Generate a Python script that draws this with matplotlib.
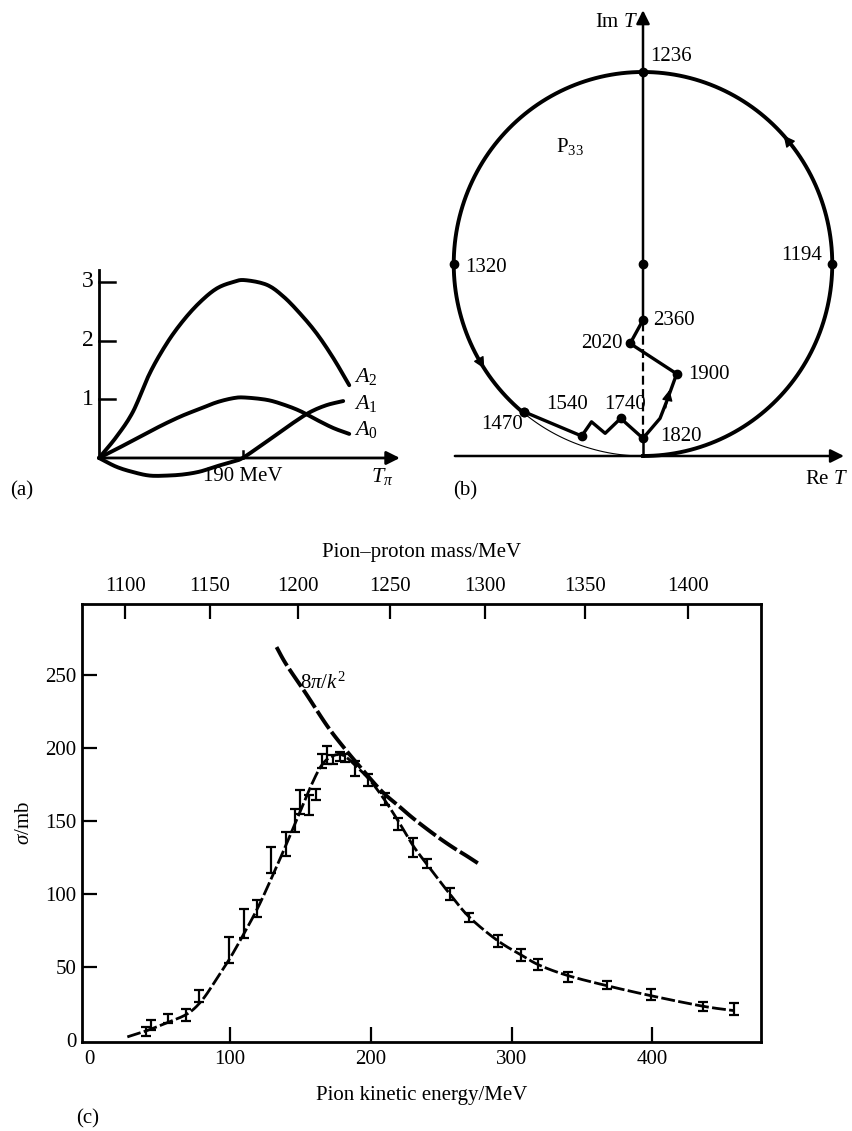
import matplotlib
matplotlib.use("Agg")
import matplotlib.pyplot as plt
import numpy as np

plt.rcParams['font.family'] = ['Liberation Serif', 'DejaVu Serif']
plt.rcParams['mathtext.fontset'] = 'custom'
plt.rcParams['mathtext.rm'] = 'Liberation Serif'
plt.rcParams['mathtext.it'] = 'Liberation Serif:italic'
plt.rcParams['mathtext.bf'] = 'Liberation Serif:bold'

# ---- panel (a): amplitudes vs pion kinetic energy (MeV)
a2_T = [0, 23, 45, 67, 90, 112, 134, 156, 178, 193, 222, 244, 266, 288, 310, 331]
a2_val = [0, 0.36, 0.79, 1.44, 1.96, 2.35, 2.66, 2.89, 3.00, 3.03, 2.95, 2.75, 2.46, 2.12, 1.70, 1.24]
a0_T = [0, 23, 45, 67, 90, 112, 134, 156, 178, 193, 222, 244, 266, 288, 310, 331]
a0_val = [0, 0.15, 0.30, 0.45, 0.60, 0.73, 0.84, 0.95, 1.02, 1.03, 0.99, 0.91, 0.80, 0.65, 0.51, 0.41]
a1_T = [0, 23, 45, 67, 90, 112, 134, 156, 178, 190, 213, 235, 257, 279, 301, 323]
a1_val = [0, -0.15, -0.24, -0.30, -0.30, -0.28, -0.23, -0.14, -0.06, 0, 0.20, 0.40, 0.60, 0.78, 0.90, 0.97]

# ---- panel (b): Argand diagram of P33 (labelled energies in MeV)
circle_E = [1194, 1236, 1320, 1470]
circle_re = [0.5, 0.0, -0.5, -0.314]
circle_im = [0.5, 1.0, 0.5, 0.115]
path_E = [1470, 1540, None, None, 1740, 1820, None, None, 1900, 2020, 2360]
path_re = [-0.314, -0.162, -0.136, -0.100, -0.059, 0.0, 0.045, 0.064, 0.089, -0.034, 0.0]
path_im = [0.115, 0.052, 0.089, 0.059, 0.098, 0.046, 0.098, 0.146, 0.214, 0.293, 0.354]

# ---- panel (c): pi+ p total cross section
T_data = [40, 44, 56, 69, 78, 99, 110, 119, 129, 140, 146, 150, 156, 161, 165, 169, 173,
          178, 182, 189, 198, 210, 219, 230, 240, 256, 270, 290, 307, 319, 340, 368, 399, 436, 458]
sigma_data = [5.6, 10, 14.5, 17, 30, 61.5, 79.5, 90, 123, 134, 150, 163, 161, 168, 191, 195, 192,
              194, 193, 186, 178, 165, 148, 132, 121, 100, 84, 67.5, 58, 51.5, 43, 37.5, 31, 23, 21]
sigma_err = [3, 3.5, 3, 4, 4, 9, 10, 6, 9, 8, 8, 8, 7, 4, 5, 6, 3,
             3, 3, 5, 4, 4, 4, 6.5, 3, 4, 3, 4, 4, 4, 3.5, 3, 3.5, 3, 4]
fit_T = [27, 40, 56, 70, 80, 90, 100, 110, 120, 130, 140, 150, 158, 165, 172, 180,
         190, 200, 210, 220, 230, 240, 256, 270, 290, 307, 320, 340, 368, 400, 436, 458]
fit_sigma = [2, 6, 12, 18, 27, 41, 56, 73, 91, 112, 134, 157, 175, 188, 194, 195,
             187, 177, 164, 149, 133, 120, 100, 84, 68, 58, 51, 44, 37, 30, 23, 20]
unit_T = [133, 140, 154, 169, 181, 195, 208, 220, 231, 246, 258, 268, 276]
unit_sigma = [269, 257, 237, 215, 200, 184, 170, 160, 151, 140, 132, 126, 121]
mass_ticks = [1100, 1150, 1200, 1250, 1300, 1350, 1400]

W, H = 853, 1131
fig = plt.figure(figsize=(W / 100, H / 100), dpi=100)


def box(x0, y0, x1, y1):
    return [x0 / W, 1 - y1 / H, (x1 - x0) / W, (y1 - y0) / H]


def smooth(x, y, n=10):
    # Catmull-Rom pass through the read points, only to draw a rounded line
    p = np.column_stack([x, y]).astype(float)
    p = np.vstack([2 * p[0] - p[1], p, 2 * p[-1] - p[-2]])
    t = np.linspace(0, 1, n, endpoint=False)[:, None]
    out = []
    for i in range(1, len(p) - 2):
        p0, p1, p2, p3 = p[i - 1], p[i], p[i + 1], p[i + 2]
        out.append(0.5 * (2 * p1 + (-p0 + p2) * t + (2 * p0 - 5 * p1 + 4 * p2 - p3) * t ** 2
                          + (-p0 + 3 * p1 - 3 * p2 + p3) * t ** 3))
    out.append(p[-2][None, :])
    out = np.vstack(out)
    return out[:, 0], out[:, 1]


# ================= (a)
ax = fig.add_axes(box(60, 260, 420, 500))
ax.set_xlim(-51.6, 424.6)
ax.set_ylim(-0.716, 3.373)
ax.axis('off')
ax.plot([0, 0], [0, 3.2], color='black', lw=2)
ax.annotate('', xy=(398, 0), xytext=(0, 0),
            arrowprops=dict(arrowstyle='-|>', lw=2, color='black', mutation_scale=20,
                            shrinkA=0, shrinkB=0))
for v in [1, 2, 3]:
    ax.plot([0, 21], [v, v], color='black', lw=1.8)
    ax.text(-7, v, str(v), ha='right', va='center', fontsize=17)
ax.plot([190, 190], [0, 0.12], color='black', lw=1.8)
ax.text(190, -0.32, '190 MeV', ha='center', va='center', fontsize=15)
ax.text(360, -0.32, r'$T_\pi$', ha='left', va='center', fontsize=16)
for tt, vv in [(a2_T, a2_val), (a0_T, a0_val), (a1_T, a1_val)]:
    sx, sy = smooth(tt, vv)
    ax.plot(sx, sy, color='black', lw=2.8, solid_capstyle='round')
ax.text(337, 1.38, r'$A_2$', ha='left', va='center', fontsize=16)
ax.text(337, 0.93, r'$A_1$', ha='left', va='center', fontsize=16)
ax.text(337, 0.48, r'$A_0$', ha='left', va='center', fontsize=16)
fig.text(10 / W, 1 - 491 / H, '(a)', ha='left', va='center', fontsize=15)

# ================= (b)
bx = fig.add_axes(box(440, 0, 853, 500))
bx.set_xlim(-0.5363, 0.5548)
bx.set_ylim(-0.1146, 1.1875)
bx.axis('off')
phi_end = np.degrees(np.arctan2(circle_re[3], 0.5 - circle_im[3])) % 360
phi = np.radians(np.linspace(0, phi_end, 400))
bx.plot(0.5 * np.sin(phi), 0.5 - 0.5 * np.cos(phi), color='black', lw=2.8)
phi = np.radians(np.linspace(phi_end, 360, 80))
bx.plot(0.5 * np.sin(phi), 0.5 - 0.5 * np.cos(phi), color='black', lw=0.8)
for p in [129, 300]:
    a0, a1 = np.radians(p - 3), np.radians(p + 3)
    bx.annotate('', xy=(0.5 * np.sin(a1), 0.5 - 0.5 * np.cos(a1)),
                xytext=(0.5 * np.sin(a0), 0.5 - 0.5 * np.cos(a0)),
                arrowprops=dict(arrowstyle='-|>', lw=1, color='black', mutation_scale=17,
                                shrinkA=0, shrinkB=0))
# axes
bx.annotate('', xy=(0.531, 0), xytext=(-0.497, 0),
            arrowprops=dict(arrowstyle='-|>', lw=1.8, color='black', mutation_scale=20,
                            shrinkA=0, shrinkB=0))
bx.annotate('', xy=(0, 1.161), xytext=(0, path_im[-1]),
            arrowprops=dict(arrowstyle='-|>', lw=1.8, color='black', mutation_scale=20,
                            shrinkA=0, shrinkB=0))
bx.plot([0, 0], [path_im[5], path_im[-1]], color='black', lw=1.6, ls=(0, (4, 2)))
bx.plot([0, 0], [0, path_im[5]], color='black', lw=1.8)
# path
bx.plot(path_re[:6], path_im[:6], color='black', lw=2.4)
bx.plot(path_re[5:], path_im[5:], color='black', lw=2.4)
bx.annotate('', xy=(0.070, 0.172), xytext=(0.060, 0.125),
            arrowprops=dict(arrowstyle='-|>', lw=1, color='black', mutation_scale=16,
                            shrinkA=0, shrinkB=0))
pts_re = circle_re + [p for p, e in zip(path_re, path_E) if e is not None] + [0.0]
pts_im = circle_im + [p for p, e in zip(path_im, path_E) if e is not None] + [0.5]
bx.plot(pts_re, pts_im, 'o', color='black', ms=6)

lab = {1236: (0.018, 1.04, 'left'), 1194: (0.473, 0.521, 'right'), 1320: (-0.470, 0.492, 'left'),
       2360: (0.026, 0.354, 'left'), 2020: (-0.054, 0.294, 'right'), 1900: (0.119, 0.211, 'left'),
       1540: (-0.2016, 0.133, 'center'), 1740: (-0.0476, 0.133, 'center'),
       1470: (-0.373, 0.081, 'center'), 1820: (0.045, 0.050, 'left')}
for e, (x, y, ha) in lab.items():
    bx.text(x, y, str(e), ha=ha, va='center', fontsize=15)
bx.text(-0.193, 0.805, r'P$_{33}$', ha='center', va='center', fontsize=15)
bx.text(-0.012, 1.128, r'Im $T$', ha='right', va='center', fontsize=15)
bx.text(0.485, -0.0625, r'Re $T$', ha='center', va='center', fontsize=15)
fig.text(465 / W, 1 - 491 / H, '(b)', ha='center', va='center', fontsize=15)

# ================= (c)
cx = fig.add_axes(box(82, 604, 761, 1042))
cx.set_xlim(-5.2, 477.2)
cx.set_ylim(-1.5, 298.5)
for s in cx.spines.values():
    s.set_linewidth(2)
cx.set_xticks([0, 100, 200, 300, 400])
cx.set_yticks([0, 50, 100, 150, 200, 250])
cx.tick_params(direction='in', length=11, width=1.6, labelsize=15, pad=6)
cx.tick_params(axis='y', pad=4)
cx.xaxis.get_major_ticks()[0].tick1line.set_visible(False)
cx.yaxis.get_major_ticks()[0].tick1line.set_visible(False)

sx, sy = smooth(fit_T, fit_sigma)
cx.plot(sx, sy, color='black', lw=2, ls=(0, (5, 1.2)))
sx, sy = smooth(unit_T, unit_sigma)
cx.plot(sx, sy, color='black', lw=2.8, ls=(0, (5.5, 1)))
cx.errorbar(T_data, sigma_data, yerr=sigma_err, fmt='none', ecolor='black',
            elinewidth=1.6, capsize=3.5, capthick=1.6)
cx.text(150, 244, r'$8\pi/k^2$', ha='left', va='center', fontsize=15)

cx.set_xlabel('Pion kinetic energy/MeV', fontsize=15, labelpad=12)
cx.set_ylabel(r'$\sigma$/mb', fontsize=15, labelpad=8)

mp, m0 = 938.3, 938.3 + 139.6


def to_mass(t):
    return np.sqrt(np.maximum(m0 ** 2 + 2 * mp * np.asarray(t, dtype=float), 1.0))


def to_T(m):
    m = np.asarray(m, dtype=float)
    return (m ** 2 - m0 ** 2) / (2 * mp)


top = cx.secondary_xaxis('top', functions=(to_mass, to_T))
top.set_xticks(mass_ticks)
top.tick_params(direction='in', length=11, width=1.6, labelsize=15, pad=6)
top.set_xlabel('Pion\u2013proton mass/MeV', fontsize=15, labelpad=14)
fig.text(88 / W, 1 - 1119 / H, '(c)', ha='center', va='center', fontsize=15)

fig.savefig('out.png', dpi=100)
